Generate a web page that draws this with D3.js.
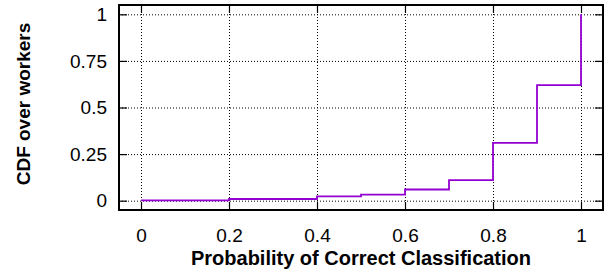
<!DOCTYPE html>
<html>
<head>
<meta charset="utf-8">
<script src="https://cdn.jsdelivr.net/npm/d3@7"></script>
<style>
  body { margin: 0; background: #fff; }
  svg { display: block; font-family: "Liberation Sans", Arial, sans-serif; }
</style>
</head>
<body>
<div id="chart"></div>
<script>
// CDF steps (step-after)
let probs = [0, 0.2, 0.4, 0.5, 0.6, 0.7, 0.8, 0.9, 1.0]
let cdf   = [0.002, 0.009, 0.023, 0.032, 0.06, 0.11, 0.31, 0.62, 1.0]

let xTicks = [0, 0.2, 0.4, 0.6, 0.8, 1]
let yTicks = [0, 0.25, 0.5, 0.75, 1]
let yTickLabels = ["0", "0.25", "0.5", "0.75", "1"]

let xTitle = "Probability of Correct Classification"
let yTitle = "CDF over workers"

function generateChart() {
  let width = 608
  let height = 278
  let margin = ({top: 5, right: 5, bottom: 68, left: 119})

  let x = d3.scaleLinear([-0.05, 1.05], [margin.left, width - margin.right])
  let y = d3.scaleLinear([-0.05, 1.05], [height - margin.bottom, margin.top])

  let data = probs.map((p, i) => ({p: p, v: cdf[i]}))

  const svg = d3.create("svg")
    .attr("width", width)
    .attr("height", height)
    .attr("viewBox", [0, 0, width, height])
    .style("background", "white")

  // dotted grid
  svg.append("g")
    .attr("transform", `translate(0,${height - margin.bottom})`)
    .call(d3.axisBottom(x).tickValues(xTicks).tickSize(-(height - margin.top - margin.bottom)).tickFormat(""))
    .call(g => g.select(".domain").remove())
    .call(g => g.selectAll(".tick line")
      .attr("stroke", "#000").attr("stroke-width", 1).attr("stroke-dasharray", "1,2"))

  svg.append("g")
    .attr("transform", `translate(${margin.left},0)`)
    .call(d3.axisLeft(y).tickValues(yTicks).tickSize(-(width - margin.left - margin.right)).tickFormat(""))
    .call(g => g.select(".domain").remove())
    .call(g => g.selectAll(".tick line")
      .attr("stroke", "#000").attr("stroke-width", 1).attr("stroke-dasharray", "1,2"))

  // inward ticks on all four sides
  svg.append("g")
    .attr("transform", `translate(0,${height - margin.bottom})`)
    .call(d3.axisBottom(x).tickValues(xTicks).tickSize(-8).tickFormat(d3.format("")))
    .call(g => g.select(".domain").remove())
    .call(g => g.selectAll(".tick line").attr("stroke", "#000").attr("stroke-width", 1.2))
    .call(g => g.selectAll(".tick text")
      .attr("font-size", 19).attr("fill", "#000").attr("y", 32).attr("dy", null))

  svg.append("g")
    .attr("transform", `translate(0,${margin.top})`)
    .call(d3.axisTop(x).tickValues(xTicks).tickSize(-8).tickFormat(""))
    .call(g => g.select(".domain").remove())
    .call(g => g.selectAll(".tick line").attr("stroke", "#000").attr("stroke-width", 1.2))

  svg.append("g")
    .attr("transform", `translate(${margin.left},0)`)
    .call(d3.axisLeft(y).tickValues(yTicks).tickSize(-8).tickPadding(12)
      .tickFormat((d, i) => yTickLabels[i]))
    .call(g => g.select(".domain").remove())
    .call(g => g.selectAll(".tick line").attr("stroke", "#000").attr("stroke-width", 1.2))
    .call(g => g.selectAll(".tick text").attr("font-size", 19).attr("fill", "#000"))

  svg.append("g")
    .attr("transform", `translate(${width - margin.right},0)`)
    .call(d3.axisRight(y).tickValues(yTicks).tickSize(-8).tickFormat(""))
    .call(g => g.select(".domain").remove())
    .call(g => g.selectAll(".tick line").attr("stroke", "#000").attr("stroke-width", 1.2))

  // CDF step line
  let line = d3.line()
    .x(d => x(d.p))
    .y(d => y(d.v))
    .curve(d3.curveStepAfter)

  svg.append("path")
    .datum(data)
    .attr("fill", "none")
    .attr("stroke", "#9400d3")
    .attr("stroke-width", 1.8)
    .attr("d", line)

  // frame
  svg.append("rect")
    .attr("x", margin.left)
    .attr("y", margin.top)
    .attr("width", width - margin.left - margin.right)
    .attr("height", height - margin.top - margin.bottom)
    .attr("fill", "none")
    .attr("stroke", "#000")
    .attr("stroke-width", 2)

  // axis titles
  svg.append("text")
    .attr("x", (margin.left + width - margin.right) / 2)
    .attr("y", 265)
    .attr("text-anchor", "middle")
    .attr("font-size", 20)
    .attr("font-weight", "bold")
    .text(xTitle)

  svg.append("text")
    .attr("transform", `translate(30,104) rotate(-90)`)
    .attr("text-anchor", "middle")
    .attr("font-size", 19)
    .attr("font-weight", "bold")
    .text(yTitle)

  return svg.node()
}

d3.select("#chart").append(generateChart)
</script>
</body>
</html>
